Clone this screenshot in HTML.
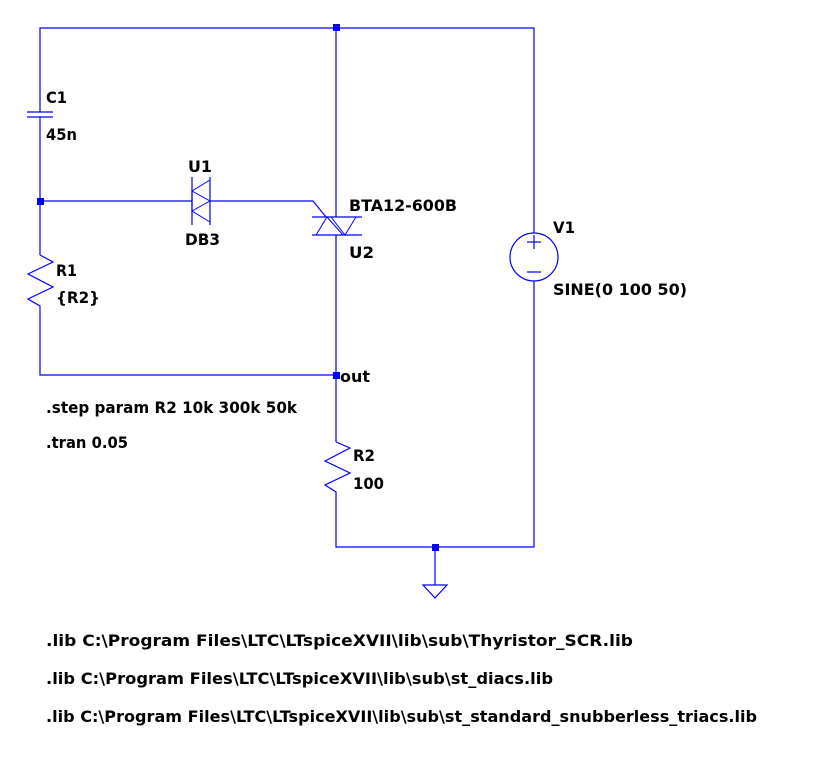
<!DOCTYPE html>
<html><head><meta charset="utf-8"><style>
html,body{margin:0;padding:0;background:#fff}
svg{display:block}
text{font-family:"DejaVu Sans","Liberation Sans",sans-serif;font-weight:bold;font-size:16px;fill:#000}
</style></head><body>
<svg width="823" height="772" viewBox="0 0 823 772" xmlns="http://www.w3.org/2000/svg">
<g stroke="#0000ff" stroke-width="1.2" fill="none">
<polyline points="40,112 40,28 534,28 534,233"/>
<line x1="27" y1="112" x2="53" y2="112"/>
<line x1="27" y1="117" x2="53" y2="117"/>
<line x1="40" y1="117" x2="40" y2="255"/>
<polyline points="40,255 53,262 28,274 53,287 28,299 40,306 40,375 336,375"/>
<line x1="40" y1="201" x2="192" y2="201"/>
<line x1="192" y1="177" x2="192" y2="225"/>
<line x1="210" y1="177" x2="210" y2="225"/>
<polyline points="210,180 192,191 210,201 192,211 210,222" stroke-width="1"/>
<line x1="192" y1="191" x2="192" y2="211"/>
<polyline points="210,201 313,201 326,217"/>
<line x1="336" y1="28" x2="336" y2="217"/>
<line x1="312" y1="217" x2="362" y2="217"/>
<line x1="312" y1="235" x2="362" y2="235"/>
<polyline points="316,235 327,217 343,235" stroke-width="1"/>
<polyline points="331,217 345,235 356,217" stroke-width="1"/>
<line x1="336" y1="235" x2="336" y2="442"/>
<polyline points="336,442 350,448 325,461 350,473 325,485 336,492 336,547 534,547 534,281"/>
<circle cx="534" cy="257" r="24"/>
<line x1="534" y1="235" x2="534" y2="249"/>
<line x1="527" y1="242" x2="541" y2="242"/>
<line x1="527" y1="272" x2="541" y2="272"/>
<line x1="435" y1="547" x2="435" y2="585"/>
<polygon points="423,585 447,585 435,598"/>
</g>
<g fill="#0000ff">
<rect x="333" y="24" width="7" height="7"/>
<rect x="37" y="198" width="7" height="7"/>
<rect x="333" y="372" width="7" height="7"/>
<rect x="432" y="544" width="7" height="7"/>
</g>
<text x="46" y="103" textLength="21" lengthAdjust="spacingAndGlyphs">C1</text>
<text x="46" y="140" textLength="31" lengthAdjust="spacingAndGlyphs">45n</text>
<text x="188" y="172" textLength="24" lengthAdjust="spacingAndGlyphs">U1</text>
<text x="185" y="245" textLength="35" lengthAdjust="spacingAndGlyphs">DB3</text>
<text x="56" y="276" textLength="21" lengthAdjust="spacingAndGlyphs">R1</text>
<text x="56" y="303" textLength="44" lengthAdjust="spacingAndGlyphs">{R2}</text>
<text x="349" y="211" textLength="108" lengthAdjust="spacingAndGlyphs">BTA12-600B</text>
<text x="349" y="258" textLength="25" lengthAdjust="spacingAndGlyphs">U2</text>
<text x="553" y="233" textLength="22" lengthAdjust="spacingAndGlyphs">V1</text>
<text x="553" y="295" textLength="134" lengthAdjust="spacingAndGlyphs">SINE(0 100 50)</text>
<text x="340" y="382" textLength="30" lengthAdjust="spacingAndGlyphs">out</text>
<text x="46" y="413" textLength="251" lengthAdjust="spacingAndGlyphs">.step param R2 10k 300k 50k</text>
<text x="46" y="448" textLength="82" lengthAdjust="spacingAndGlyphs">.tran 0.05</text>
<text x="353" y="461" textLength="22" lengthAdjust="spacingAndGlyphs">R2</text>
<text x="353" y="489" textLength="31" lengthAdjust="spacingAndGlyphs">100</text>
<text x="46" y="646" textLength="587" lengthAdjust="spacingAndGlyphs">.lib C:\Program Files\LTC\LTspiceXVII\lib\sub\Thyristor_SCR.lib</text>
<text x="46" y="684" textLength="507" lengthAdjust="spacingAndGlyphs">.lib C:\Program Files\LTC\LTspiceXVII\lib\sub\st_diacs.lib</text>
<text x="46" y="722" textLength="711" lengthAdjust="spacingAndGlyphs">.lib C:\Program Files\LTC\LTspiceXVII\lib\sub\st_standard_snubberless_triacs.lib</text>
</svg>
</body></html>
